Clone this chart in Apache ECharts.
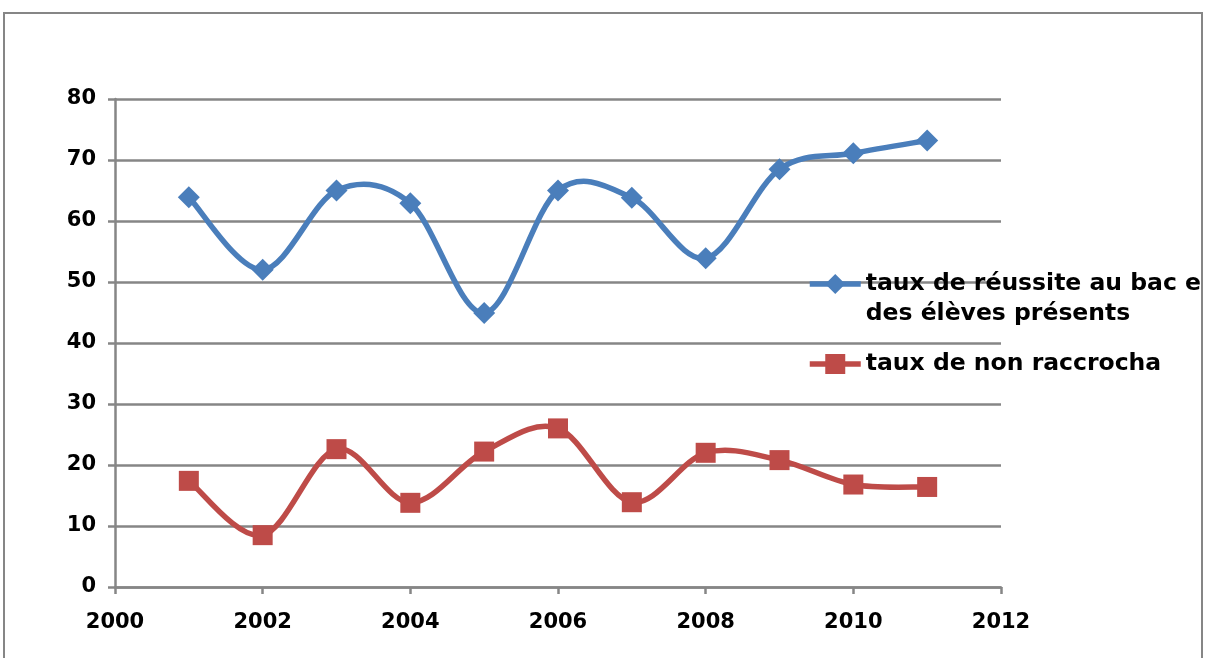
<!DOCTYPE html>
<html>
<head>
<meta charset="utf-8">
<script src="https://cdn.jsdelivr.net/npm/echarts@6/dist/echarts.min.js"></script>
<style>
html,body{margin:0;padding:0;background:#fff;}
#chart{width:1206px;height:658px;}
</style>
</head>
<body>
<div id="chart"></div>
<script>
const years = [2001, 2002, 2003, 2004, 2005, 2006, 2007, 2008, 2009, 2010, 2011];
const reussite = [63.9, 52.0, 65.0, 62.9, 44.9, 65.0, 63.8, 53.9, 68.5, 71.1, 73.2];
const nonRaccrochage = [17.4, 8.5, 22.6, 13.8, 22.2, 26.0, 13.9, 22.0, 20.8, 16.8, 16.4];
const name1 = 'taux de réussite au bac e\ndes élèves présents';
const name2 = 'taux de non raccrocha';
const xTicks = { min: 2000, max: 2012, interval: 2 };
const yTicks = { min: 0, max: 80, interval: 10 };

const pair = (vals) => years.map((y, i) => [y, vals[i]]);
const FONT = 'DejaVu Sans';
const GRAY = '#868686';
const BLUE = '#4A7EBB';
const RED = '#BE4B48';

// Excel-like smooth curve (Catmull-Rom, tension 1/6) through library coordinates
function smoothRenderer(vals, color) {
  return function (params, api) {
    const i = params.dataIndex;
    if (i >= years.length - 1) return null;
    const P = (k) => {
      k = Math.max(0, Math.min(years.length - 1, k));
      return api.coord([years[k], vals[k]]);
    };
    const p0 = P(i - 1), p1 = P(i), p2 = P(i + 1), p3 = P(i + 2);
    const t = 1 / 6;
    return {
      type: 'bezierCurve',
      shape: {
        x1: p1[0], y1: p1[1], x2: p2[0], y2: p2[1],
        cpx1: p1[0] + (p2[0] - p0[0]) * t, cpy1: p1[1] + (p2[1] - p0[1]) * t,
        cpx2: p2[0] - (p3[0] - p1[0]) * t, cpy2: p2[1] - (p3[1] - p1[1]) * t
      },
      style: { stroke: color, lineWidth: 5.5, fill: 'none', lineCap: 'round' },
      silent: true
    };
  };
}

const chart = echarts.init(document.getElementById('chart'));
chart.setOption({
  animation: false,
  backgroundColor: '#fff',
  graphic: [{
    type: 'rect', z: -10,
    shape: { x: 4, y: 13, width: 1198, height: 700 },
    style: { fill: 'none', stroke: GRAY, lineWidth: 2 }
  }],
  grid: { left: 115, right: 205, top: 99, bottom: 71, containLabel: false },
  xAxis: {
    type: 'value', min: xTicks.min, max: xTicks.max, interval: xTicks.interval,
    axisLine: { show: true, lineStyle: { color: GRAY, width: 2.5 } },
    axisTick: { show: true, length: 7, lineStyle: { color: GRAY, width: 2.5 } },
    splitLine: { show: false },
    axisLabel: { margin: 25, color: '#000', fontFamily: FONT, fontWeight: 'bold', fontSize: 21,
                 formatter: (v) => String(v) }
  },
  yAxis: {
    type: 'value', min: yTicks.min, max: yTicks.max, interval: yTicks.interval,
    axisLine: { show: true, lineStyle: { color: GRAY, width: 2.5 } },
    axisTick: { show: true, length: 7, lineStyle: { color: GRAY, width: 2.5 } },
    splitLine: { show: true, lineStyle: { color: GRAY, width: 2.5 } },
    axisLabel: { margin: 19, color: '#000', fontFamily: FONT, fontWeight: 'bold', fontSize: 21 }
  },
  legend: [{
    data: [name1], orient: 'vertical', left: 807, top: 239, padding: 0,
    itemWidth: 51, itemHeight: 25, itemGap: 0,
    formatter: (n) => '\n' + n,
    lineStyle: { color: BLUE, width: 5.5, opacity: 1 },
    textStyle: { color: '#000', fontFamily: FONT, fontWeight: 'bold', fontSize: 23.5, lineHeight: 30 }
  }, {
    data: [name2], orient: 'vertical', left: 807, top: 349, padding: 0,
    itemWidth: 51, itemHeight: 25, itemGap: 0,
    lineStyle: { color: RED, width: 5.5, opacity: 1 },
    textStyle: { color: '#000', fontFamily: FONT, fontWeight: 'bold', fontSize: 23.5, lineHeight: 30 }
  }],
  series: [{
    name: name1, type: 'line', z: 3,
    data: pair(reussite),
    symbol: 'diamond', symbolSize: 22,
    lineStyle: { color: BLUE, width: 0 },
    itemStyle: { color: BLUE }
  }, {
    name: name2, type: 'line', z: 3,
    data: pair(nonRaccrochage),
    symbol: 'rect', symbolSize: 20,
    lineStyle: { color: RED, width: 0 },
    itemStyle: { color: RED }
  }, {
    name: 'courbe réussite', type: 'custom', z: 2,
    data: pair(reussite),
    renderItem: smoothRenderer(reussite, BLUE)
  }, {
    name: 'courbe non raccrochage', type: 'custom', z: 2,
    data: pair(nonRaccrochage),
    renderItem: smoothRenderer(nonRaccrochage, RED)
  }]
});
</script>
</body>
</html>
